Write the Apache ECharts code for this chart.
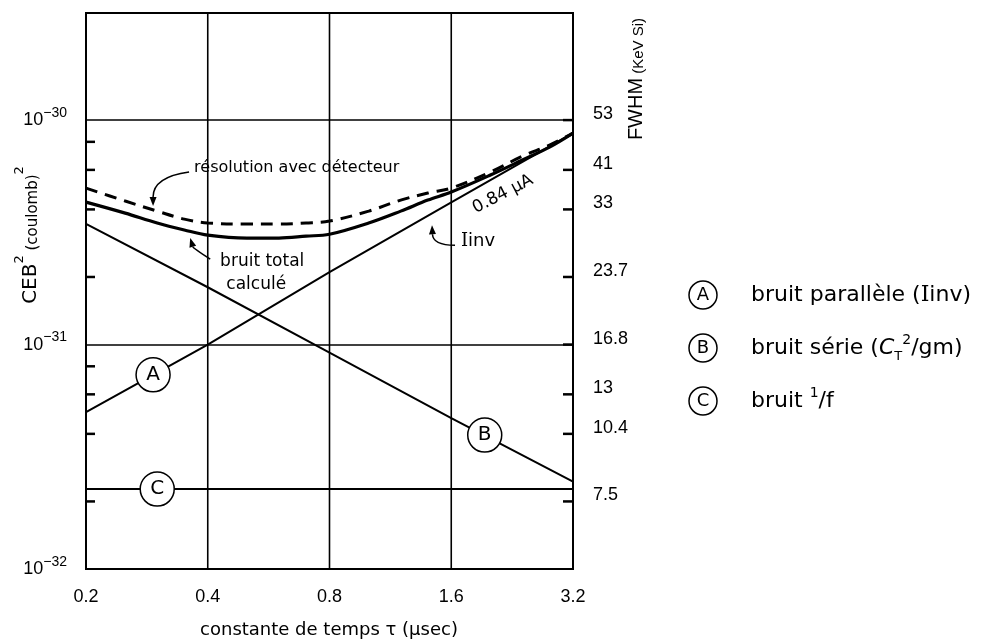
<!DOCTYPE html>
<html><head><meta charset="utf-8">
<script src="https://cdn.jsdelivr.net/npm/echarts@6/dist/echarts.min.js"></script>
<style>html,body{margin:0;padding:0;background:#fff}#c{width:986px;height:641px}</style>
</head><body><div id="c"></div>
<script>
// All CEB² values in coulomb²; plotted in units of 1e-32 C² (ECharts log axis needs values > 1e-10)
const UNIT = 1e-32;
const tau = [0.2, 0.25, 0.3, 0.35, 0.4, 0.5, 0.6, 0.7, 0.8, 1.0, 1.2, 1.4, 1.6, 2.0, 2.4, 2.8, 3.2];
const totalNoise = [4.31e-31, 3.85e-31, 3.48e-31, 3.24e-31, 3.07e-31, 2.98e-31, 2.98e-31, 3.04e-31, 3.10e-31,
                    3.48e-31, 3.93e-31, 4.40e-31, 4.78e-31, 5.69e-31, 6.64e-31, 7.58e-31, 8.75e-31];
const withDetector = [4.98e-31, 4.36e-31, 3.93e-31, 3.62e-31, 3.48e-31, 3.44e-31, 3.44e-31, 3.48e-31, 3.55e-31,
                      3.93e-31, 4.40e-31, 4.73e-31, 4.98e-31, 5.87e-31, 6.91e-31, 7.74e-31, 8.75e-31];
const tauLines = [0.2, 0.4, 0.8, 1.6, 3.2];
const parallelNoise = [5.0e-32, 1.0e-31, 2.1e-31, 4.3e-31, 8.75e-31];   // A
const seriesNoise   = [3.45e-31, 1.8e-31, 9.2e-32, 4.7e-32, 2.45e-32];  // B
const flickerNoise  = [2.27e-32, 2.27e-32, 2.27e-32, 2.27e-32, 2.27e-32]; // C

const xMin = 0.2, xMax = 3.2, yMin = 1e-32, yMax = 3e-30;
const xTickValues = [0.2, 0.4, 0.8, 1.6, 3.2];
const xTickLabels = ['0.2', '0.4', '0.8', '1.6', '3.2'];
const leftMinorTicks = [2e-32, 4e-32, 6e-32, 8e-32, 2e-31, 4e-31, 6e-31, 8e-31];
const fwhmTickValues = [1e-30, 6e-31, 4e-31, 2e-31, 1e-31, 6e-32, 4e-32, 2e-32];
const fwhmTickLabels = ['53', '41', '33', '23.7', '16.8', '13', '10.4', '7.5'];

const markerLetters = ['A', 'B', 'C'];
const markerTau = [0.293, 1.936, 0.3];
const markerCEB = [7.33e-32, 3.95e-32, 2.27e-32];

const noteTau = [0.293, 0.362, 1.434, 2.147];
const noteCEB = [4.14e-31, 2.98e-31, 3.4e-31, 4.68e-31];

const legendLetters = ['A', 'B', 'C'];
const legendTexts = [
  '{t|bruit parallèle (}{I|I}{t|inv)}',
  '{t|bruit série (}{i|C}{sub|T}{sup|2}{t|/gm)}',
  '{t|bruit }{sup|1}{t|/f}'
];

const u = v => v / UNIT;
const pts = (xs, ys) => xs.map((x, i) => [x, u(ys[i])]);
const FONT = '"DejaVu Sans"';
const SERIF = '"DejaVu Serif"';
const NUMFONT = '"Liberation Sans"';

function arrow(p, t, c) {
  const dx = p[0] - c[0], dy = p[1] - c[1];
  const L = Math.hypot(dx, dy) || 1; const ux = dx / L, uy = dy / L;
  const len = 9, w = 3.5;
  const bx = p[0] - ux * len, by = p[1] - uy * len;
  return [
    {type: 'bezierCurve', shape: {x1: t[0], y1: t[1], cpx1: c[0], cpy1: c[1], x2: bx, y2: by},
     style: {stroke: '#000', lineWidth: 1.5, fill: null}},
    {type: 'polygon', shape: {points: [[p[0], p[1]], [bx - uy * w, by + ux * w], [bx + uy * w, by - ux * w]]},
     style: {fill: '#000'}}
  ];
}
const txt = (x, y, text, size, align, extra) => Object.assign({type: 'text', x: x, y: y,
  style: {text: text, fill: '#000', font: size + 'px ' + FONT, align: align || 'left', verticalAlign: 'middle'}}, extra || {});

const chart = echarts.init(document.getElementById('c'), null, {renderer: 'canvas'});
const option = {
  animation: false,
  backgroundColor: '#fff',
  grid: {left: 86, top: 13, right: 413, bottom: 72, show: true, borderColor: '#000', borderWidth: 2, backgroundColor: 'transparent'},
  xAxis: {type: 'log', logBase: 2, min: xMin, max: xMax,
    axisLine: {show: false}, axisTick: {show: false}, axisLabel: {show: false}, splitLine: {show: false}},
  yAxis: {type: 'log', logBase: 10, min: u(yMin), max: u(yMax),
    axisLine: {show: false}, axisTick: {show: false},
    splitLine: {show: true, lineStyle: {color: '#000', width: 1.6}},
    axisLabel: {margin: 19, formatter: function (v) {
      const e = Math.log10(v); const r = Math.round(e);
      if (Math.abs(e - r) > 1e-6) return '';
      return '{b|10}{s|−' + (32 - r) + '}';
    }, rich: {
      b: {fontSize: 18, fontFamily: NUMFONT, color: '#000', lineHeight: 28},
      s: {fontSize: 14, fontFamily: NUMFONT, color: '#000', lineHeight: 14, verticalAlign: 'top'}
    }}},
  series: [
    {type: 'custom', name: 'xgrid', clip: false, silent: true, z: 1,
     data: xTickValues.map(v => [v, u(yMin)]),
     renderItem: function (params, api) {
       const x = api.value(0);
       const a = api.coord([x, u(yMin)]), b = api.coord([x, u(yMax)]);
       return {type: 'group', children: [
         {type: 'line', shape: {x1: a[0], y1: a[1], x2: b[0], y2: b[1]}, style: {stroke: '#000', lineWidth: 1.6}},
         {type: 'text', x: a[0], y: a[1] + 28, style: {text: xTickLabels[params.dataIndex], fill: '#000',
           font: '18px ' + NUMFONT, align: 'center', verticalAlign: 'middle'}}
       ]};
     }},
    {type: 'custom', name: 'leftTicks', clip: false, silent: true, z: 2,
     data: leftMinorTicks.map(v => [xMin, u(v)]),
     renderItem: function (params, api) {
       const p = api.coord([xMin, api.value(1)]);
       return {type: 'line', shape: {x1: p[0], y1: p[1], x2: p[0] + 9, y2: p[1]}, style: {stroke: '#000', lineWidth: 2.5}};
     }},
    {type: 'custom', name: 'fwhmTicks', clip: false, silent: true, z: 2,
     data: fwhmTickValues.map(v => [xMax, u(v)]),
     renderItem: function (params, api) {
       const p = api.coord([xMax, api.value(1)]);
       return {type: 'group', children: [
         {type: 'line', shape: {x1: p[0] - 10, y1: p[1], x2: p[0], y2: p[1]}, style: {stroke: '#000', lineWidth: 2.5}},
         {type: 'text', x: p[0] + 20, y: p[1] - 6, style: {text: fwhmTickLabels[params.dataIndex], fill: '#000',
           font: '18px ' + NUMFONT, align: 'left', verticalAlign: 'middle'}}
       ]};
     }},
    {type: 'line', name: 'A', data: pts(tauLines, parallelNoise), symbol: 'none', z: 3, lineStyle: {color: '#000', width: 2}},
    {type: 'line', name: 'B', data: pts(tauLines, seriesNoise), symbol: 'none', z: 3, lineStyle: {color: '#000', width: 2}},
    {type: 'line', name: 'C', data: pts(tauLines, flickerNoise), symbol: 'none', z: 3, lineStyle: {color: '#000', width: 2}},
    {type: 'line', name: 'bruit total calculé', data: pts(tau, totalNoise), symbol: 'none', smooth: 0.35, z: 3,
     lineStyle: {color: '#000', width: 3.2}},
    {type: 'line', name: 'résolution avec détecteur', data: pts(tau, withDetector), symbol: 'none', smooth: 0.35, z: 3,
     lineStyle: {color: '#000', width: 3, type: [12, 8]}},
    {type: 'custom', name: 'markers', clip: false, silent: true, z: 6,
     data: markerTau.map((t, i) => [t, u(markerCEB[i])]),
     renderItem: function (params, api) {
       const p = api.coord([api.value(0), api.value(1)]);
       return {type: 'group', children: [
         {type: 'circle', shape: {cx: p[0], cy: p[1], r: 17}, style: {fill: '#fff', stroke: '#000', lineWidth: 1.5}},
         {type: 'text', x: p[0], y: p[1], style: {text: markerLetters[params.dataIndex], fill: '#000',
           font: '20px ' + FONT, align: 'center', verticalAlign: 'middle'}}
       ]};
     }},
    {type: 'custom', name: 'notes', clip: false, silent: true, z: 6,
     data: noteTau.map((t, i) => [t, u(noteCEB[i])]),
     renderItem: function (params, api) {
       const p = api.coord([api.value(0), api.value(1)]);
       const i = params.dataIndex; let ch = [];
       if (i === 0) {
         ch = arrow(p, [p[0] + 36, p[1] - 34], [p[0], p[1] - 29]);
         ch.push(txt(p[0] + 41, p[1] - 38, 'résolution avec détecteur', 16, 'left'));
       } else if (i === 1) {
         ch = arrow(p, [p[0] + 20, p[1] + 21], [p[0] + 3, p[1] + 10]);
         ch.push(txt(p[0] + 72, p[1] + 23, 'bruit total', 17, 'center'));
         ch.push(txt(p[0] + 66, p[1] + 46, 'calculé', 17, 'center'));
       } else if (i === 2) {
         ch = arrow(p, [p[0] + 23, p[1] + 20], [p[0] + 1, p[1] + 20]);
         ch.push({type: 'text', x: p[0] + 29, y: p[1] + 16, style: {text: '{I|I}{t|inv}', align: 'left', verticalAlign: 'middle',
           fill: '#000', rich: {I: {fontSize: 18, fontFamily: SERIF}, t: {fontSize: 18, fontFamily: FONT}}}});
       } else {
         ch.push(txt(p[0], p[1], '0.84 μA', 17, 'center', {rotation: 0.48}));
       }
       return {type: 'group', children: ch};
     }}
  ],
  graphic: [
    {type: 'text', x: 27, y: 235, rotation: Math.PI / 2,
     style: {text: '{a|CEB}{s|2}{c| (coulomb)}{s|2}', align: 'center', verticalAlign: 'middle', fill: '#000',
       rich: {a: {fontSize: 20, fontFamily: FONT, lineHeight: 28, verticalAlign: 'bottom'},
              c: {fontSize: 15, fontFamily: FONT, lineHeight: 24, verticalAlign: 'bottom'},
              s: {fontSize: 13, fontFamily: FONT, lineHeight: 13, verticalAlign: 'top'}}}},
    {type: 'text', x: 633, y: 79, rotation: Math.PI / 2,
     style: {text: '{a|FWHM}{c| (KeV Si)}', align: 'center', verticalAlign: 'middle', fill: '#000',
       rich: {a: {fontSize: 20, fontFamily: NUMFONT, lineHeight: 26, verticalAlign: 'bottom'},
              c: {fontSize: 15, fontFamily: NUMFONT, lineHeight: 22, verticalAlign: 'bottom'}}}},
    {type: 'text', x: 329, y: 630,
     style: {text: 'constante de temps τ (μsec)', font: '18px ' + FONT, fill: '#000', align: 'center', verticalAlign: 'middle'}}
  ].concat(legendLetters.map((L, i) => ({type: 'circle', shape: {cx: 703, cy: 295 + 53 * i, r: 14},
      style: {fill: '#fff', stroke: '#000', lineWidth: 1.5}})))
   .concat(legendLetters.map((L, i) => ({type: 'text', x: 703, y: 295 + 53 * i,
      style: {text: L, font: '18px ' + FONT, fill: '#000', align: 'center', verticalAlign: 'middle'}})))
   .concat(legendTexts.map((T, i) => ({type: 'text', x: 751, y: 295 + 53 * i,
      style: {text: T, align: 'left', verticalAlign: 'middle', fill: '#000',
        rich: {t: {fontSize: 22, fontFamily: FONT, lineHeight: 30},
               I: {fontSize: 22, fontFamily: SERIF, lineHeight: 30},
               i: {fontSize: 22, fontFamily: FONT, fontStyle: 'italic', lineHeight: 30},
               sub: {fontSize: 13, fontFamily: FONT, lineHeight: 14, verticalAlign: 'bottom'},
               sup: {fontSize: 14, fontFamily: FONT, lineHeight: 14, verticalAlign: 'top'}}}})))
};
chart.setOption(option);
</script>
</body></html>
